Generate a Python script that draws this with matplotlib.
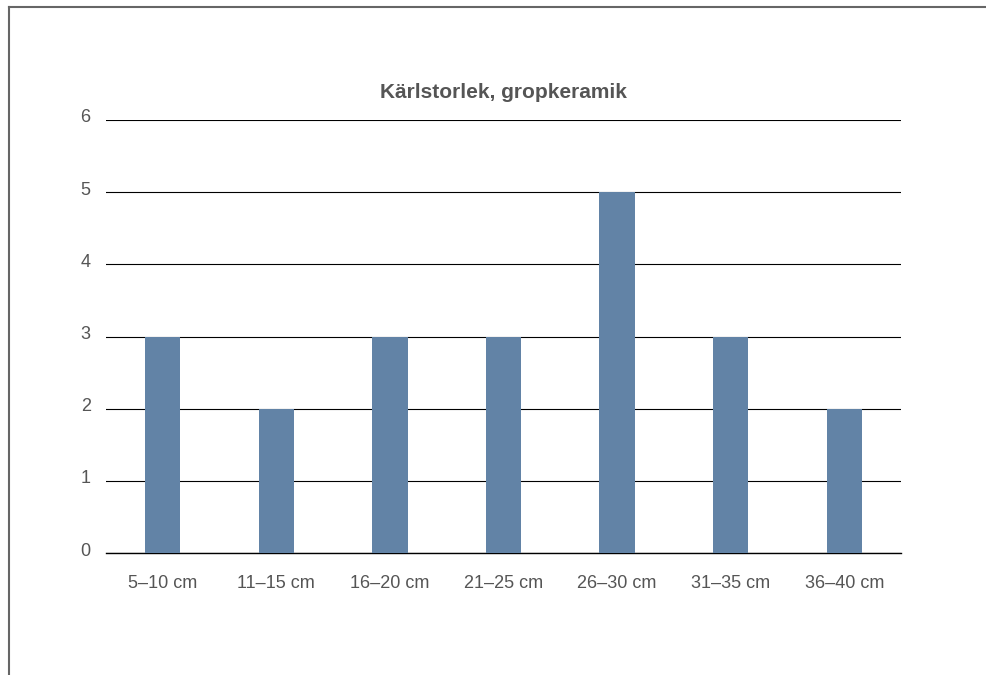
import matplotlib
matplotlib.use("Agg")
import matplotlib.pyplot as plt
from matplotlib.lines import Line2D
from matplotlib.transforms import ScaledTranslation

plt.rcParams['font.family'] = ['Liberation Sans', 'DejaVu Sans']

categories = ["5–10 cm", "11–15 cm", "16–20 cm", "21–25 cm", "26–30 cm", "31–35 cm", "36–40 cm"]
counts = [3, 2, 3, 3, 5, 3, 2]
yticks = [0, 1, 2, 3, 4, 5, 6]

W, H = 987, 675
fig = plt.figure(figsize=(W / 100, H / 100), dpi=100)
ax = fig.add_axes([106 / W, 1 - 553 / H, (901 - 106) / W, (553 - 120) / H])

xs = range(len(categories))
ax.bar(xs, counts, width=0.31, color="#6283a6", zorder=3)

ax.set_xlim(-0.5, len(categories) - 0.5)
ax.set_ylim(0, 6)
ax.set_yticks(yticks)
ax.set_xticks(list(xs))
ax.set_xticklabels(categories)
ax.yaxis.grid(True, color="black", linewidth=0.8, zorder=0)
for s in ["top", "right", "left"]:
    ax.spines[s].set_visible(False)
ax.spines["bottom"].set_color("black")
ax.spines["bottom"].set_linewidth(1.0)
ax.tick_params(axis="both", length=0, labelsize=13, labelcolor="#555555")
ax.tick_params(axis="y", pad=11)
ax.tick_params(axis="x", pad=16)
# nudge the y labels a little above their gridlines
shift = ScaledTranslation(0, 4 / 100, fig.dpi_scale_trans)
for lbl in ax.get_yticklabels():
    lbl.set_transform(lbl.get_transform() + shift)

ax.set_title("Kärlstorlek, gropkeramik", fontsize=15, fontweight="bold",
             color="#555555", pad=16)

# frame around the panel (top and left edges)
fig.add_artist(Line2D([9 / W, 9 / W], [0, 1 - 7 / H], color="#666666", linewidth=1.5))
fig.add_artist(Line2D([9 / W, 1], [1 - 7 / H, 1 - 7 / H], color="#666666", linewidth=1.5))

fig.savefig("out.png", dpi=100)
